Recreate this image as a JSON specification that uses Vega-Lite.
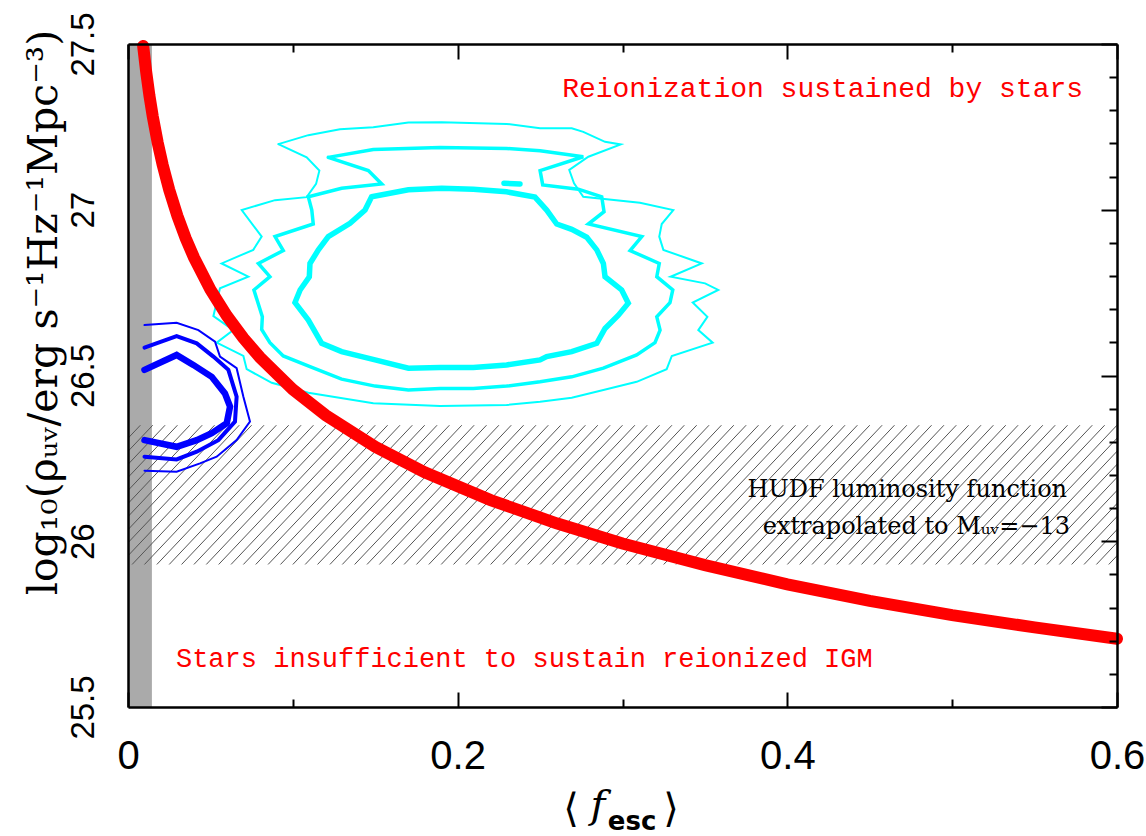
{
"$schema": "https://vega.github.io/schema/vega-lite/v6.json",
"width": 989, "height": 663,
"autosize": {"type": "none"},
"padding": {"left": 128, "top": 44, "right": 29, "bottom": 129},
"background": "white",
"config": {"view": {"stroke": null}},
"datasets": {
"red": [{"x":0.0092,"y":27.494},{"x":0.011,"y":27.417},{"x":0.013,"y":27.344},{"x":0.015,"y":27.282},{"x":0.018,"y":27.203},{"x":0.021,"y":27.136},{"x":0.025,"y":27.06},{"x":0.03,"y":26.981},{"x":0.035,"y":26.914},{"x":0.04,"y":26.856},{"x":0.05,"y":26.759},{"x":0.06,"y":26.68},{"x":0.07,"y":26.613},{"x":0.08,"y":26.555},{"x":0.1,"y":26.458},{"x":0.12,"y":26.38},{"x":0.15,"y":26.285},{"x":0.18,"y":26.208},{"x":0.22,"y":26.124},{"x":0.26,"y":26.054},{"x":0.3,"y":25.993},{"x":0.35,"y":25.928},{"x":0.4,"y":25.87},{"x":0.45,"y":25.82},{"x":0.5,"y":25.777},{"x":0.55,"y":25.74},{"x":0.6,"y":25.706}],
"hatch": [{"a":-0.08,"b":0},{"a":-0.0725,"b":0.0075},{"a":-0.065,"b":0.015},{"a":-0.0575,"b":0.0225},{"a":-0.05,"b":0.03},{"a":-0.0425,"b":0.0375},{"a":-0.035,"b":0.045},{"a":-0.0275,"b":0.0525},{"a":-0.02,"b":0.06},{"a":-0.0125,"b":0.0675},{"a":-0.005,"b":0.075},{"a":0.0025,"b":0.0825},{"a":0.01,"b":0.09},{"a":0.0175,"b":0.0975},{"a":0.025,"b":0.105},{"a":0.0325,"b":0.1125},{"a":0.04,"b":0.12},{"a":0.0475,"b":0.1275},{"a":0.055,"b":0.135},{"a":0.0625,"b":0.1425},{"a":0.07,"b":0.15},{"a":0.0775,"b":0.1575},{"a":0.085,"b":0.165},{"a":0.0925,"b":0.1725},{"a":0.1,"b":0.18},{"a":0.1075,"b":0.1875},{"a":0.115,"b":0.195},{"a":0.1225,"b":0.2025},{"a":0.13,"b":0.21},{"a":0.1375,"b":0.2175},{"a":0.145,"b":0.225},{"a":0.1525,"b":0.2325},{"a":0.16,"b":0.24},{"a":0.1675,"b":0.2475},{"a":0.175,"b":0.255},{"a":0.1825,"b":0.2625},{"a":0.19,"b":0.27},{"a":0.1975,"b":0.2775},{"a":0.205,"b":0.285},{"a":0.2125,"b":0.2925},{"a":0.22,"b":0.3},{"a":0.2275,"b":0.3075},{"a":0.235,"b":0.315},{"a":0.2425,"b":0.3225},{"a":0.25,"b":0.33},{"a":0.2575,"b":0.3375},{"a":0.265,"b":0.345},{"a":0.2725,"b":0.3525},{"a":0.28,"b":0.36},{"a":0.2875,"b":0.3675},{"a":0.295,"b":0.375},{"a":0.3025,"b":0.3825},{"a":0.31,"b":0.39},{"a":0.3175,"b":0.3975},{"a":0.325,"b":0.405},{"a":0.3325,"b":0.4125},{"a":0.34,"b":0.42},{"a":0.3475,"b":0.4275},{"a":0.355,"b":0.435},{"a":0.3625,"b":0.4425},{"a":0.37,"b":0.45},{"a":0.3775,"b":0.4575},{"a":0.385,"b":0.465},{"a":0.3925,"b":0.4725},{"a":0.4,"b":0.48},{"a":0.4075,"b":0.4875},{"a":0.415,"b":0.495},{"a":0.4225,"b":0.5025},{"a":0.43,"b":0.51},{"a":0.4375,"b":0.5175},{"a":0.445,"b":0.525},{"a":0.4525,"b":0.5325},{"a":0.46,"b":0.54},{"a":0.4675,"b":0.5475},{"a":0.475,"b":0.555},{"a":0.4825,"b":0.5625},{"a":0.49,"b":0.57},{"a":0.4975,"b":0.5775},{"a":0.505,"b":0.585},{"a":0.5125,"b":0.5925},{"a":0.52,"b":0.6},{"a":0.5275,"b":0.6075},{"a":0.535,"b":0.615},{"a":0.5425,"b":0.6225},{"a":0.55,"b":0.63},{"a":0.5575,"b":0.6375},{"a":0.565,"b":0.645},{"a":0.5725,"b":0.6525},{"a":0.58,"b":0.66},{"a":0.5875,"b":0.6675},{"a":0.595,"b":0.675}],
"contours": [
{"c":"c1","i":0,"x":0.0912,"y":27.198},{"c":"c1","i":1,"x":0.1094,"y":27.225},{"c":"c1","i":2,"x":0.1286,"y":27.243},{"c":"c1","i":3,"x":0.1488,"y":27.249},{"c":"c1","i":4,"x":0.1701,"y":27.263},{"c":"c1","i":5,"x":0.1903,"y":27.264},{"c":"c1","i":6,"x":0.2297,"y":27.259},{"c":"c1","i":7,"x":0.25,"y":27.246},{"c":"c1","i":8,"x":0.2692,"y":27.246},{"c":"c1","i":9,"x":0.2762,"y":27.235},{"c":"c1","i":10,"x":0.2894,"y":27.205},{"c":"c1","i":11,"x":0.2989,"y":27.197},{"c":"c1","i":12,"x":0.2793,"y":27.16},{"c":"c1","i":13,"x":0.2677,"y":27.12},{"c":"c1","i":14,"x":0.2706,"y":27.08},{"c":"c1","i":15,"x":0.2762,"y":27.039},{"c":"c1","i":16,"x":0.3106,"y":27.021},{"c":"c1","i":17,"x":0.3308,"y":26.999},{"c":"c1","i":18,"x":0.3238,"y":26.957},{"c":"c1","i":19,"x":0.3223,"y":26.919},{"c":"c1","i":20,"x":0.3248,"y":26.879},{"c":"c1","i":21,"x":0.3481,"y":26.838},{"c":"c1","i":22,"x":0.3292,"y":26.798},{"c":"c1","i":23,"x":0.3501,"y":26.778},{"c":"c1","i":24,"x":0.3581,"y":26.758},{"c":"c1","i":25,"x":0.3426,"y":26.72},{"c":"c1","i":26,"x":0.3515,"y":26.677},{"c":"c1","i":27,"x":0.346,"y":26.637},{"c":"c1","i":28,"x":0.3547,"y":26.599},{"c":"c1","i":29,"x":0.3299,"y":26.559},{"c":"c1","i":30,"x":0.3268,"y":26.519},{"c":"c1","i":31,"x":0.3086,"y":26.481},{"c":"c1","i":32,"x":0.2884,"y":26.456},{"c":"c1","i":33,"x":0.2692,"y":26.433},{"c":"c1","i":34,"x":0.25,"y":26.421},{"c":"c1","i":35,"x":0.2297,"y":26.411},{"c":"c1","i":36,"x":0.1893,"y":26.408},{"c":"c1","i":37,"x":0.1488,"y":26.416},{"c":"c1","i":38,"x":0.1094,"y":26.448},{"c":"c1","i":39,"x":0.0872,"y":26.478},{"c":"c1","i":40,"x":0.072,"y":26.519},{"c":"c1","i":41,"x":0.07,"y":26.559},{"c":"c1","i":42,"x":0.0538,"y":26.599},{"c":"c1","i":43,"x":0.0639,"y":26.637},{"c":"c1","i":44,"x":0.0518,"y":26.679},{"c":"c1","i":45,"x":0.0558,"y":26.763},{"c":"c1","i":46,"x":0.073,"y":26.798},{"c":"c1","i":47,"x":0.0568,"y":26.838},{"c":"c1","i":48,"x":0.076,"y":26.879},{"c":"c1","i":49,"x":0.0811,"y":26.919},{"c":"c1","i":50,"x":0.069,"y":26.999},{"c":"c1","i":51,"x":0.0892,"y":27.029},{"c":"c1","i":52,"x":0.1084,"y":27.038},{"c":"c1","i":53,"x":0.1141,"y":27.078},{"c":"c1","i":54,"x":0.1161,"y":27.118},{"c":"c1","i":55,"x":0.1084,"y":27.158},{"c":"c1","i":56,"x":0.0912,"y":27.198},
{"c":"c2","i":0,"x":0.1215,"y":27.158},{"c":"c2","i":1,"x":0.1488,"y":27.182},{"c":"c2","i":2,"x":0.1893,"y":27.188},{"c":"c2","i":3,"x":0.2297,"y":27.185},{"c":"c2","i":4,"x":0.25,"y":27.178},{"c":"c2","i":5,"x":0.2762,"y":27.16},{"c":"c2","i":6,"x":0.25,"y":27.118},{"c":"c2","i":7,"x":0.2516,"y":27.075},{"c":"c2","i":8,"x":0.2732,"y":27.062},{"c":"c2","i":9,"x":0.2874,"y":27.039},{"c":"c2","i":10,"x":0.2888,"y":26.994},{"c":"c2","i":11,"x":0.2793,"y":26.957},{"c":"c2","i":12,"x":0.3117,"y":26.919},{"c":"c2","i":13,"x":0.3046,"y":26.877},{"c":"c2","i":14,"x":0.3223,"y":26.838},{"c":"c2","i":15,"x":0.3208,"y":26.798},{"c":"c2","i":16,"x":0.3305,"y":26.758},{"c":"c2","i":17,"x":0.3288,"y":26.72},{"c":"c2","i":18,"x":0.3208,"y":26.677},{"c":"c2","i":19,"x":0.3228,"y":26.637},{"c":"c2","i":20,"x":0.3197,"y":26.599},{"c":"c2","i":21,"x":0.3086,"y":26.562},{"c":"c2","i":22,"x":0.2884,"y":26.522},{"c":"c2","i":23,"x":0.2692,"y":26.496},{"c":"c2","i":24,"x":0.25,"y":26.481},{"c":"c2","i":25,"x":0.2297,"y":26.468},{"c":"c2","i":26,"x":0.2095,"y":26.461},{"c":"c2","i":27,"x":0.1893,"y":26.461},{"c":"c2","i":28,"x":0.1701,"y":26.456},{"c":"c2","i":29,"x":0.1499,"y":26.468},{"c":"c2","i":30,"x":0.1296,"y":26.489},{"c":"c2","i":31,"x":0.1104,"y":26.527},{"c":"c2","i":32,"x":0.0942,"y":26.559},{"c":"c2","i":33,"x":0.0861,"y":26.599},{"c":"c2","i":34,"x":0.0811,"y":26.639},{"c":"c2","i":35,"x":0.0815,"y":26.677},{"c":"c2","i":36,"x":0.0764,"y":26.758},{"c":"c2","i":37,"x":0.0861,"y":26.798},{"c":"c2","i":38,"x":0.0791,"y":26.838},{"c":"c2","i":39,"x":0.0942,"y":26.877},{"c":"c2","i":40,"x":0.0892,"y":26.919},{"c":"c2","i":41,"x":0.1124,"y":26.957},{"c":"c2","i":42,"x":0.1115,"y":26.999},{"c":"c2","i":43,"x":0.1094,"y":27.039},{"c":"c2","i":44,"x":0.1296,"y":27.065},{"c":"c2","i":45,"x":0.1539,"y":27.078},{"c":"c2","i":46,"x":0.1458,"y":27.118},{"c":"c2","i":47,"x":0.1215,"y":27.158},
{"c":"c3","i":0,"x":0.1478,"y":27.039},{"c":"c3","i":1,"x":0.1701,"y":27.06},{"c":"c3","i":2,"x":0.1903,"y":27.065},{"c":"c3","i":3,"x":0.2095,"y":27.062},{"c":"c3","i":4,"x":0.2297,"y":27.054},{"c":"c3","i":5,"x":0.2469,"y":27.038},{"c":"c3","i":6,"x":0.254,"y":26.999},{"c":"c3","i":7,"x":0.2601,"y":26.957},{"c":"c3","i":8,"x":0.2692,"y":26.941},{"c":"c3","i":9,"x":0.2783,"y":26.917},{"c":"c3","i":10,"x":0.2844,"y":26.879},{"c":"c3","i":11,"x":0.2884,"y":26.838},{"c":"c3","i":12,"x":0.2894,"y":26.798},{"c":"c3","i":13,"x":0.2995,"y":26.758},{"c":"c3","i":14,"x":0.3035,"y":26.718},{"c":"c3","i":15,"x":0.2975,"y":26.682},{"c":"c3","i":16,"x":0.2894,"y":26.642},{"c":"c3","i":17,"x":0.2844,"y":26.597},{"c":"c3","i":18,"x":0.2692,"y":26.572},{"c":"c3","i":19,"x":0.254,"y":26.557},{"c":"c3","i":20,"x":0.25,"y":26.547},{"c":"c3","i":21,"x":0.2297,"y":26.532},{"c":"c3","i":22,"x":0.2095,"y":26.524},{"c":"c3","i":23,"x":0.1893,"y":26.524},{"c":"c3","i":24,"x":0.1701,"y":26.522},{"c":"c3","i":25,"x":0.1499,"y":26.547},{"c":"c3","i":26,"x":0.1296,"y":26.572},{"c":"c3","i":27,"x":0.1175,"y":26.597},{"c":"c3","i":28,"x":0.1094,"y":26.667},{"c":"c3","i":29,"x":0.1013,"y":26.72},{"c":"c3","i":30,"x":0.1044,"y":26.758},{"c":"c3","i":31,"x":0.11,"y":26.798},{"c":"c3","i":32,"x":0.1104,"y":26.838},{"c":"c3","i":33,"x":0.1155,"y":26.879},{"c":"c3","i":34,"x":0.1215,"y":26.919},{"c":"c3","i":35,"x":0.1347,"y":26.959},{"c":"c3","i":36,"x":0.1438,"y":26.999},{"c":"c3","i":37,"x":0.1478,"y":27.039},
{"c":"c4","i":0,"x":0.2281,"y":27.08},{"c":"c4","i":1,"x":0.2378,"y":27.078},
{"c":"b1","i":0,"x":0.01,"y":26.652},{"c":"b1","i":1,"x":0.0295,"y":26.659},{"c":"b1","i":2,"x":0.0427,"y":26.637},{"c":"b1","i":3,"x":0.0528,"y":26.602},{"c":"b1","i":4,"x":0.0558,"y":26.557},{"c":"b1","i":5,"x":0.0659,"y":26.522},{"c":"b1","i":6,"x":0.07,"y":26.436},{"c":"b1","i":7,"x":0.074,"y":26.361},{"c":"b1","i":8,"x":0.0659,"y":26.305},{"c":"b1","i":9,"x":0.0538,"y":26.255},{"c":"b1","i":10,"x":0.0437,"y":26.235},{"c":"b1","i":11,"x":0.0295,"y":26.21},{"c":"b1","i":12,"x":0.01,"y":26.213},
{"c":"b2","i":0,"x":0.01,"y":26.584},{"c":"b2","i":1,"x":0.0295,"y":26.619},{"c":"b2","i":2,"x":0.0417,"y":26.597},{"c":"b2","i":3,"x":0.0518,"y":26.557},{"c":"b2","i":4,"x":0.0609,"y":26.517},{"c":"b2","i":5,"x":0.0659,"y":26.436},{"c":"b2","i":6,"x":0.0649,"y":26.361},{"c":"b2","i":7,"x":0.0548,"y":26.305},{"c":"b2","i":8,"x":0.0417,"y":26.27},{"c":"b2","i":9,"x":0.0295,"y":26.247},{"c":"b2","i":10,"x":0.01,"y":26.255},
{"c":"b3","i":0,"x":0.01,"y":26.517},{"c":"b3","i":1,"x":0.0295,"y":26.562},{"c":"b3","i":2,"x":0.0396,"y":26.532},{"c":"b3","i":3,"x":0.0508,"y":26.496},{"c":"b3","i":4,"x":0.0588,"y":26.446},{"c":"b3","i":5,"x":0.0619,"y":26.406},{"c":"b3","i":6,"x":0.0599,"y":26.356},{"c":"b3","i":7,"x":0.0508,"y":26.326},{"c":"b3","i":8,"x":0.0417,"y":26.305},{"c":"b3","i":9,"x":0.0295,"y":26.285},{"c":"b3","i":10,"x":0.01,"y":26.305}
]
},
"resolve": {"axis": {"x": "independent", "y": "independent"}},
"layer": [
{"layer": [
{"data": {"values": [{}]},
 "mark": {"type": "rect", "color": "#aaaaaa"},
 "encoding": {
  "x": {"datum": 0, "type": "quantitative", "scale": {"domain": [0, 0.6], "nice": false, "zero": false},
   "axis": {"values": [0, 0.1, 0.2, 0.3, 0.4, 0.5, 0.6], "format": "~g", "labelExpr": "abs(datum.value*5 - round(datum.value*5)) < 0.001 ? datum.label : ''", "labelFont": "Liberation Sans", "labelFontSize": 40, "labelColor": "black", "labelPadding": 44, "labelFlush": false, "labelOverlap": false, "title": null, "grid": false, "domainColor": "black", "domainWidth": 2.5, "tickColor": "black", "tickWidth": 2, "tickSize": {"condition": {"test": "abs(datum.value*5 - round(datum.value*5)) < 0.001", "value": -15}, "value": -8}, "zindex": 1}},
  "x2": {"datum": 0.0145},
  "y": {"datum": 25.5, "type": "quantitative", "scale": {"domain": [25.5, 27.5], "nice": false, "zero": false},
   "axis": {"values": [25.5, 26, 26.5, 27, 27.5], "format": "~g", "ticks": false, "labelAngle": -90, "labelAlign": "center", "labelBaseline": "alphabetic", "labelPadding": 35, "labelFont": "Liberation Sans", "labelFontSize": 33, "labelColor": "black", "labelFlush": false, "labelOverlap": false, "grid": false, "domainColor": "black", "domainWidth": 2.5, "title": "log₁₀(ρᵤᵥ/erg s⁻¹Hz⁻¹Mpc⁻³)", "titleFont": "DejaVu Serif", "titleFontSize": 41, "titleFontWeight": "normal", "titleColor": "black", "titlePadding": 2, "titleY": 268, "zindex": 1}},
  "y2": {"datum": 27.5}}},
{"data": {"name": "hatch"},
 "mark": {"type": "rule", "color": "#555555", "strokeWidth": 1, "clip": true},
 "encoding": {"x": {"field": "a", "type": "quantitative"}, "x2": {"field": "b"}, "y": {"datum": 25.93, "type": "quantitative"}, "y2": {"datum": 26.35}}},
{"data": {"name": "contours"},
 "transform": [{"filter": {"field": "c", "oneOf": ["c1", "b1"]}}],
 "mark": {"type": "line", "strokeWidth": 2, "strokeCap": "round"},
 "encoding": {
  "x": {"field": "x", "type": "quantitative"},
  "y": {"field": "y", "type": "quantitative"},
  "color": {"field": "c", "type": "nominal", "scale": {"domain": ["b1","b2","b3","c1","c2","c3","c4"], "range": ["#0000ff","#0000ff","#0000ff","#00ffff","#00ffff","#00ffff","#00ffff"]}, "legend": null},
  "order": {"field": "i", "type": "quantitative"}}},
{"data": {"name": "contours"},
 "transform": [{"filter": {"field": "c", "equal": "c2"}}],
 "mark": {"type": "line", "strokeWidth": 3.5, "strokeCap": "round", "color": "#00ffff"},
 "encoding": {
  "x": {"field": "x", "type": "quantitative"},
  "y": {"field": "y", "type": "quantitative"},
  "order": {"field": "i", "type": "quantitative"}}},
{"data": {"name": "contours"},
 "transform": [{"filter": {"field": "c", "oneOf": ["c3", "c4"]}}],
 "mark": {"type": "line", "strokeWidth": 5.5, "strokeCap": "round", "color": "#00ffff"},
 "encoding": {
  "x": {"field": "x", "type": "quantitative"},
  "y": {"field": "y", "type": "quantitative"},
  "detail": {"field": "c", "type": "nominal"},
  "order": {"field": "i", "type": "quantitative"}}},
{"data": {"name": "contours"},
 "transform": [{"filter": {"field": "c", "equal": "b2"}}],
 "mark": {"type": "line", "strokeWidth": 4, "strokeCap": "round", "color": "#0000ff"},
 "encoding": {
  "x": {"field": "x", "type": "quantitative"},
  "y": {"field": "y", "type": "quantitative"},
  "order": {"field": "i", "type": "quantitative"}}},
{"data": {"name": "contours"},
 "transform": [{"filter": {"field": "c", "equal": "b3"}}],
 "mark": {"type": "line", "strokeWidth": 6.5, "strokeCap": "round", "color": "#0000ff"},
 "encoding": {
  "x": {"field": "x", "type": "quantitative"},
  "y": {"field": "y", "type": "quantitative"},
  "order": {"field": "i", "type": "quantitative"}}},
{"data": {"name": "red"},
 "mark": {"type": "line", "color": "#ff0000", "strokeWidth": 12, "strokeCap": "round"},
 "encoding": {"x": {"field": "x", "type": "quantitative"}, "y": {"field": "y", "type": "quantitative"}}},
{"data": {"values": [{}]},
 "mark": {"type": "text", "text": "Reionization sustained by stars", "font": "Liberation Mono", "fontSize": 28, "color": "#ff0000", "align": "right", "baseline": "middle"},
 "encoding": {"x": {"datum": 0.5794, "type": "quantitative"}, "y": {"datum": 27.364, "type": "quantitative"}}},
{"data": {"values": [{}]},
 "mark": {"type": "text", "text": "Stars insufficient to sustain reionized IGM", "font": "Liberation Mono", "fontSize": 27, "color": "#ff0000", "align": "left", "baseline": "middle"},
 "encoding": {"x": {"datum": 0.0291, "type": "quantitative"}, "y": {"datum": 25.645, "type": "quantitative"}}},
{"data": {"values": [{}]},
 "mark": {"type": "text", "text": "HUDF luminosity function", "font": "DejaVu Serif", "fontSize": 24, "color": "black", "align": "right", "baseline": "middle"},
 "encoding": {"x": {"datum": 0.5697, "type": "quantitative"}, "y": {"datum": 26.155, "type": "quantitative"}}},
{"data": {"values": [{}]},
 "mark": {"type": "text", "text": "extrapolated to Mᵤᵥ=−13", "font": "DejaVu Serif", "fontSize": 24, "color": "black", "align": "right", "baseline": "middle"},
 "encoding": {"x": {"datum": 0.5715, "type": "quantitative"}, "y": {"datum": 26.043, "type": "quantitative"}}},
{"data": {"values": [{}]},
 "mark": {"type": "text", "text": "⟨", "font": "DejaVu Sans", "fontSize": 40, "color": "black", "align": "center", "baseline": "middle"},
 "encoding": {"x": {"datum": 0.2688, "type": "quantitative"}, "y": {"datum": 25.189, "type": "quantitative"}}},
{"data": {"values": [{}]},
 "mark": {"type": "text", "text": "f", "font": "DejaVu Serif", "fontStyle": "italic", "fontSize": 40, "color": "black", "align": "center", "baseline": "middle"},
 "encoding": {"x": {"datum": 0.2851, "type": "quantitative"}, "y": {"datum": 25.2, "type": "quantitative"}}},
{"data": {"values": [{}]},
 "mark": {"type": "text", "text": "esc", "font": "DejaVu Sans", "fontWeight": "bold", "fontSize": 26, "color": "black", "align": "center", "baseline": "middle"},
 "encoding": {"x": {"datum": 0.3058, "type": "quantitative"}, "y": {"datum": 25.153, "type": "quantitative"}}},
{"data": {"values": [{}]},
 "mark": {"type": "text", "text": "⟩", "font": "DejaVu Sans", "fontSize": 40, "color": "black", "align": "center", "baseline": "middle"},
 "encoding": {"x": {"datum": 0.3294, "type": "quantitative"}, "y": {"datum": 25.189, "type": "quantitative"}}}
]},
{"data": {"values": [{}]},
 "mark": {"type": "point", "opacity": 0},
 "encoding": {
  "x": {"datum": 0.3, "type": "quantitative", "axis": {"orient": "top", "values": [0, 0.1, 0.2, 0.3, 0.4, 0.5, 0.6], "labels": false, "title": null, "grid": false, "domainColor": "black", "domainWidth": 2.5, "tickColor": "black", "tickWidth": 2, "tickSize": {"condition": {"test": "abs(datum.value*5 - round(datum.value*5)) < 0.001", "value": -15}, "value": -8}, "zindex": 1}},
  "y": {"datum": 26.5, "type": "quantitative", "axis": {"orient": "right", "values": [25.5, 25.6, 25.7, 25.8, 25.9, 26, 26.1, 26.2, 26.3, 26.4, 26.5, 26.6, 26.7, 26.8, 26.9, 27, 27.1, 27.2, 27.3, 27.4, 27.5], "labels": false, "title": null, "grid": false, "domainColor": "black", "domainWidth": 2.5, "tickColor": "black", "tickWidth": 2, "tickSize": {"condition": {"test": "abs(datum.value*2 - round(datum.value*2)) < 0.001", "value": -16}, "value": -8}, "zindex": 1}}}}
]
}
